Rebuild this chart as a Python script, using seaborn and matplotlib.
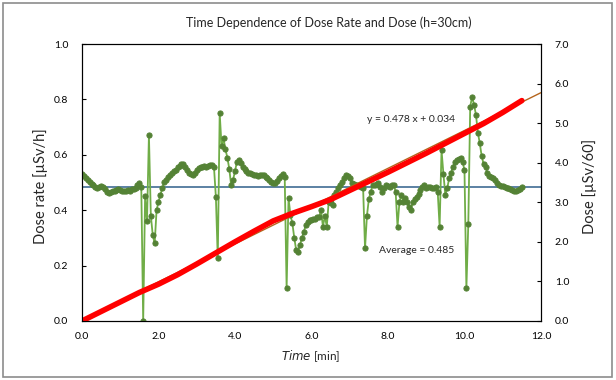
import numpy as np
import pandas as pd
import seaborn as sns
import matplotlib.pyplot as plt
from matplotlib.patches import Rectangle

# Dose rate [uSv/h], one reading every 0.05 min
rate = [
    0.530, 0.525, 0.515, 0.510, 0.500, 0.495, 0.490, 0.485, 0.480, 0.485,
    0.488, 0.485, 0.475, 0.465, 0.462, 0.465, 0.468, 0.470, 0.472, 0.475,
    0.473, 0.470, 0.468, 0.470, 0.472, 0.470, 0.475, 0.477, 0.480, 0.490,
    0.497, 0.485, 0.000, 0.450, 0.360, 0.670, 0.380, 0.310, 0.280, 0.400,
    0.430, 0.455, 0.480, 0.500, 0.510, 0.520, 0.527, 0.535, 0.540, 0.545,
    0.555, 0.560, 0.567, 0.565, 0.555, 0.545, 0.535, 0.530, 0.527, 0.535,
    0.545, 0.551, 0.555, 0.557, 0.560, 0.557, 0.560, 0.563, 0.563, 0.557,
    0.449, 0.226, 0.750, 0.630, 0.660, 0.620, 0.590, 0.550, 0.490, 0.510,
    0.540, 0.575, 0.581, 0.570, 0.557, 0.550, 0.540, 0.535, 0.533, 0.530,
    0.527, 0.527, 0.525, 0.527, 0.528, 0.527, 0.520, 0.515, 0.509, 0.503,
    0.497, 0.497, 0.505, 0.515, 0.525, 0.530, 0.521, 0.118, 0.443, 0.383,
    0.353, 0.300, 0.256, 0.250, 0.274, 0.300, 0.322, 0.345, 0.358, 0.365,
    0.365, 0.370, 0.370, 0.375, 0.377, 0.400, 0.340, 0.380, 0.340, 0.430,
    0.425, 0.420, 0.455, 0.465, 0.479, 0.490, 0.503, 0.515, 0.527, 0.525,
    0.515, 0.497, 0.495, 0.490, 0.491, 0.488, 0.485, 0.479, 0.262, 0.380,
    0.440, 0.467, 0.491, 0.491, 0.495, 0.497, 0.485, 0.467, 0.480, 0.491,
    0.488, 0.485, 0.490, 0.491, 0.467, 0.340, 0.430, 0.455, 0.430, 0.443,
    0.430, 0.410, 0.400, 0.430, 0.440, 0.449, 0.460, 0.473, 0.485, 0.491,
    0.479, 0.482, 0.485, 0.480, 0.479, 0.485, 0.467, 0.340, 0.617, 0.530,
    0.455, 0.480, 0.515, 0.535, 0.557, 0.575, 0.580, 0.585, 0.590, 0.575,
    0.545, 0.118, 0.350, 0.774, 0.810, 0.780, 0.745, 0.680, 0.642, 0.595,
    0.567, 0.555, 0.535, 0.525, 0.521, 0.515, 0.509, 0.497, 0.490, 0.488,
    0.486, 0.483, 0.481, 0.479, 0.476, 0.473, 0.471, 0.470, 0.472, 0.475,
    0.483,
]
time_min = np.round(np.arange(len(rate)) * 0.05, 2)

# Accumulated dose [uSv/60], read every 0.5 min
dose_time = [0.0, 0.5, 1.0, 1.5, 2.0, 2.5, 3.0, 3.5, 4.0, 4.5, 5.0, 5.5,
             6.0, 6.5, 7.0, 7.5, 8.0, 8.5, 9.0, 9.5, 10.0, 10.5, 11.0, 11.5]
dose = [0.00, 0.24, 0.48, 0.72, 0.93, 1.17, 1.44, 1.72, 2.00, 2.27, 2.53, 2.72,
        2.89, 3.07, 3.30, 3.53, 3.76, 4.00, 4.24, 4.49, 4.74, 4.99, 5.27, 5.57]

# linear trend of the dose (y = 0.478 x + 0.034)
trend_x = [0.0, 12.0]
trend_y = [0.034, 5.770]

average = 0.485

df_rate = pd.DataFrame({"time": time_min, "rate": rate})
df_dose = pd.DataFrame({"time": dose_time, "dose": dose})
df_trend = pd.DataFrame({"time": trend_x, "dose": trend_y})

sns.set_style("white")
plt.rcParams['font.family'] = ['Lato', 'DejaVu Sans']

fig = plt.figure(figsize=(6.16, 3.80), dpi=100)
ax = fig.add_axes([0.1331, 0.1553, 0.7451, 0.7289])
ax2 = ax.twinx()

# dose rate
sns.lineplot(data=df_rate, x="time", y="rate", ax=ax, color="#70AD47", lw=1.3,
             marker="o", markersize=3.7, markerfacecolor="#548235",
             markeredgecolor="#548235", zorder=3)
ax.axhline(average, color="#2F5F8A", lw=1.1, zorder=2)

# dose
sns.lineplot(data=df_trend, x="time", y="dose", ax=ax2, color="#B5651D", lw=1.0)
sns.lineplot(data=df_dose, x="time", y="dose", ax=ax2, color="#FF0000", lw=4.0,
             solid_capstyle="round")

ax.set_xlim(0, 12)
ax.set_ylim(0, 1.0)
ax2.set_ylim(0, 7.0)
ax.set_xticks(np.arange(0, 12.1, 2))
ax.set_yticks(np.arange(0, 1.01, 0.2))
ax2.set_yticks(np.arange(0, 7.01, 1))
ax.set_xticklabels([f"{v:.1f}" for v in np.arange(0, 12.1, 2)])
ax.set_yticklabels([f"{v:.1f}" for v in np.arange(0, 1.01, 0.2)])
ax2.set_yticklabels([f"{v:.1f}" for v in np.arange(0, 7.01, 1)])

for a in (ax, ax2):
    a.tick_params(direction="in", length=3, width=0.8, labelsize=7.5,
                  colors="#000000", pad=10)
    for s in a.spines.values():
        s.set_color("#000000")
        s.set_linewidth(0.8)
ax.tick_params(axis="x", pad=8)

ax.set_xlabel("")
ax.set_ylabel("")
ax2.set_ylabel("")
fig.text(0.505, 0.063, r"$\it{Time}$ [min]", ha="center", va="center",
         fontsize=8.5)
fig.text(0.065, 0.51, "Dose rate [µSv/h]", rotation=90, ha="center",
         va="center", fontsize=10.5)
fig.text(0.957, 0.51, "Dose [µSv/60]", rotation=90, ha="center",
         va="center", fontsize=10.5)
fig.text(0.534, 0.94, "Time Dependence of Dose Rate and Dose (h=30cm)",
         ha="center", va="center", fontsize=9)

# labels drawn on the top axes so the dose line does not hide them
ax2.text(8.6, 0.726, "y = 0.478 x + 0.034", ha="center", va="center",
         fontsize=7.5, transform=ax.transData, zorder=5)
ax2.text(8.75, 0.256, "Average = 0.485", ha="center", va="center",
         fontsize=7.5, transform=ax.transData, zorder=5)

fig.patches.append(Rectangle((0.005, 0.008), 0.988, 0.984, transform=fig.transFigure,
                             fill=False, edgecolor="#8C8C8C", lw=1.2))

fig.savefig("out.png", dpi=100)
